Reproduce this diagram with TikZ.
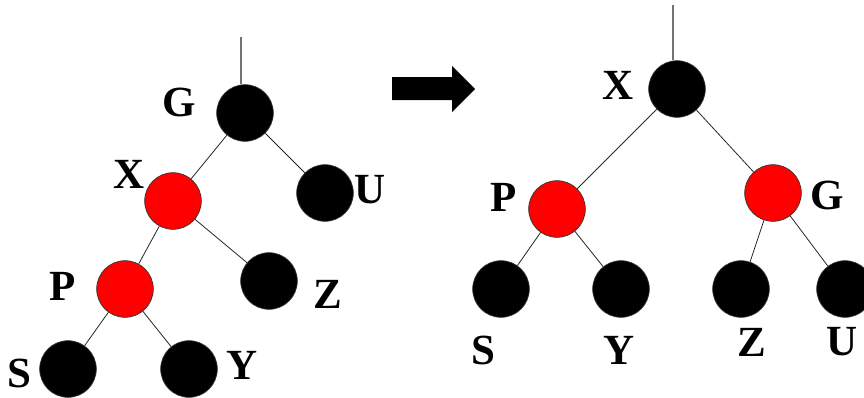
\documentclass[tikz,border=0pt]{standalone}
\usepackage{fontspec}
\setmainfont{Liberation Serif}
\begin{document}
\begin{tikzpicture}[x=1pt,y=-1pt,
  rbnode/.style={circle,minimum size=56.6pt,inner sep=0pt,draw=black!80,line width=0.7pt},
  blk/.style={rbnode,fill=black},
  rd/.style={rbnode,fill=red},
  lbl/.style={inner sep=0pt,font=\fontsize{43}{43}\selectfont\bfseries},
  edge/.style={draw=black!85,line width=0.8pt},
  stem/.style={draw=black!55,line width=1.3pt}]
\useasboundingbox (0,0) rectangle (864,397);

% tree before the rotation
\node[blk] (lG) at (245,113) {};
\node[rd]  (lX) at (173,201) {};
\node[blk] (lU) at (325,193) {};
\node[rd]  (lP) at (125,289) {};
\node[blk] (lZ) at (269,281) {};
\node[blk] (lS) at (68,369) {};
\node[blk] (lY) at (189,369) {};
\coordinate (lTop) at (241,37);
\draw[stem] (lTop) -- (lTop |- lG.north);
\draw[edge] (lG) -- (lX);
\draw[edge] (lG) -- (lU);
\draw[edge] (lX) -- (lP);
\draw[edge] (lX) -- (lZ);
\draw[edge] (lP) -- (lS);
\draw[edge] (lP) -- (lY);
\node[lbl] (lGt) at (179,102) {G};
\node[lbl] (lXt) at (129,174) {X};
\node[lbl] (lUt) at (370,190) {U};
\node[lbl] (lPt) at (63,286) {P};
\node[lbl] (lZt) at (328,294) {Z};
\node[lbl] (lSt) at (19,373) {S};
\node[lbl] (lYt) at (242,365) {Y};

% block arrow
\fill[black] (392,77) -- (452,77) -- (452,66) -- (475,89) -- (452,112) -- (452,100) -- (392,100) -- cycle;

% tree after the rotation
\node[blk] (rX) at (677,89) {};
\node[rd]  (rP) at (557,209) {};
\node[rd]  (rG) at (773,193) {};
\node[blk] (rS) at (501,289) {};
\node[blk] (rY) at (621,289) {};
\node[blk] (rZ) at (741,289) {};
\node[blk] (rU) at (845,289) {};
\coordinate (rTop) at (673,5);
\draw[stem] (rTop) -- (rTop |- rX.north);
\draw[edge] (rX) -- (rP);
\draw[edge] (rX) -- (rG);
\draw[edge] (rP) -- (rS);
\draw[edge] (rP) -- (rY);
\draw[edge] (rG) -- (rZ);
\draw[edge] (rG) -- (rU);
\node[lbl] (rXt) at (618,85) {X};
\node[lbl] (rPt) at (504,197) {P};
\node[lbl] (rGt) at (827,195) {G};
\node[lbl] (rSt) at (483,350) {S};
\node[lbl] (rYt) at (619,350) {Y};
\node[lbl] (rZt) at (752,342) {Z};
\node[lbl] (rUt) at (842,342) {U};
\end{tikzpicture}
\end{document}
